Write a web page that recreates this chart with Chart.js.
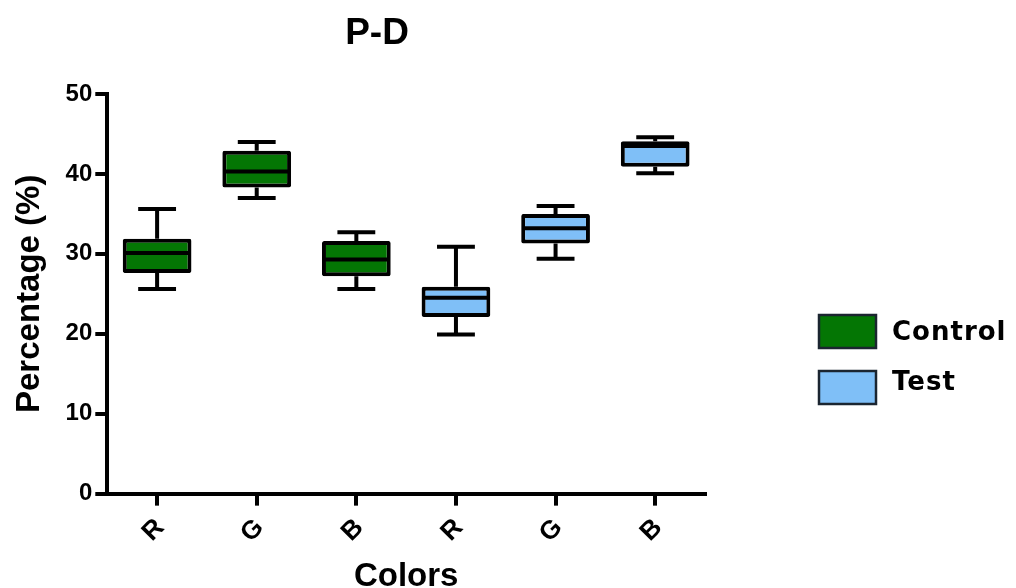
<!DOCTYPE html>
<html>
<head>
<meta charset="utf-8">
<title>P-D</title>
<script src="https://cdn.jsdelivr.net/npm/chart.js@4.4.1/dist/chart.umd.min.js"></script>
<style>
  html, body { margin: 0; padding: 0; background: #fff; }
  #wrap { width: 1016px; height: 588px; }
</style>
</head>
<body>
<div id="wrap"><canvas id="boxChart" width="1016" height="588"></canvas></div>
<script>
// colour channels, control group first then test group
const categories = ["R", "G", "B", "R", "G", "B"];
const groupNames = ["Control", "Test"];

// five-number summaries (percentage)
const controlMin    = [25.6, 37.0, 25.6, null, null, null];
const controlQ1     = [27.6, 38.3, 27.2, null, null, null];
const controlMedian = [30.1, 40.3, 29.3, null, null, null];
const controlQ3     = [31.9, 42.9, 31.6, null, null, null];
const controlMax    = [35.6, 44.0, 32.7, null, null, null];

const testMin    = [null, null, null, 19.9, 29.4, 40.1];
const testQ1     = [null, null, null, 22.1, 31.3, 40.9];
const testMedian = [null, null, null, 24.5, 33.2, 43.5];
const testQ3     = [null, null, null, 25.9, 35.0, 44.1];
const testMax    = [null, null, null, 30.9, 36.0, 44.6];

const yTicks = [0, 10, 20, 30, 40, 50];

const GREEN = '#047604';
const BLUE = '#7fbff7';
const INK = '#000000';
const SANS = "'Liberation Sans', Arial, sans-serif";

function boxes(lo, hi) {
  return lo.map((q, i) => (q == null ? null : [q, hi[i]]));
}

// whiskers behind the boxes, medians on top
const boxWhiskers = {
  id: 'boxWhiskers',
  beforeDatasetsDraw(chart) {
    const ctx = chart.ctx;
    const y = chart.scales.y;
    const x = chart.scales.x;
    const capW = (x.getPixelForValue(1) - x.getPixelForValue(0)) * 0.38;
    ctx.save();
    ctx.strokeStyle = INK;
    ctx.lineWidth = 4;
    ctx.lineCap = 'butt';
    chart.data.datasets.forEach((ds, di) => {
      chart.getDatasetMeta(di).data.forEach((bar, i) => {
        if (ds.data[i] == null) return;
        const cx = bar.x;
        const top = y.getPixelForValue(ds.whiskerHigh[i]);
        const bot = y.getPixelForValue(ds.whiskerLow[i]);
        ctx.beginPath();
        ctx.moveTo(cx, top);
        ctx.lineTo(cx, y.getPixelForValue(ds.data[i][1]));
        ctx.moveTo(cx, bot);
        ctx.lineTo(cx, y.getPixelForValue(ds.data[i][0]));
        ctx.moveTo(cx - capW / 2, top);
        ctx.lineTo(cx + capW / 2, top);
        ctx.moveTo(cx - capW / 2, bot);
        ctx.lineTo(cx + capW / 2, bot);
        ctx.stroke();
      });
    });
    ctx.restore();
  },
  afterDatasetsDraw(chart) {
    const ctx = chart.ctx;
    const y = chart.scales.y;
    ctx.save();
    ctx.strokeStyle = INK;
    ctx.lineWidth = 4;
    chart.data.datasets.forEach((ds, di) => {
      chart.getDatasetMeta(di).data.forEach((bar, i) => {
        if (ds.data[i] == null) return;
        const my = y.getPixelForValue(ds.median[i]);
        ctx.beginPath();
        ctx.moveTo(bar.x - bar.width / 2 + 2, my);
        ctx.lineTo(bar.x + bar.width / 2 - 2, my);
        ctx.stroke();
      });
    });
    ctx.restore();
  }
};

// heading and the group key at the right
const decorations = {
  id: 'decorations',
  afterDraw(chart) {
    const ctx = chart.ctx;
    ctx.save();
    ctx.fillStyle = INK;
    ctx.font = "bold 37px " + SANS;
    ctx.textAlign = 'center';
    ctx.textBaseline = 'alphabetic';
    ctx.fillText('P-D', 377, 44);

    const rows = [314, 370];
    chart.data.datasets.forEach((ds, di) => {
      const top = rows[di];
      ctx.fillStyle = ds.backgroundColor;
      ctx.fillRect(818, top, 59, 35);
      ctx.strokeStyle = '#1b2530';
      ctx.lineWidth = 2.5;
      ctx.strokeRect(819, top + 1, 57, 33);
      ctx.fillStyle = INK;
      ctx.font = "bold 26px 'DejaVu Sans', sans-serif";
      ctx.letterSpacing = '1px';
      ctx.textAlign = 'left';
      ctx.fillText(ds.label, 892, di === 0 ? top + 26 : top + 20);
    });
    ctx.restore();
  }
};

const axisGrid = {
  drawOnChartArea: false,
  drawTicks: true,
  tickLength: 12,
  lineWidth: 4,
  color: INK
};

new Chart(document.getElementById('boxChart'), {
  type: 'bar',
  data: {
    labels: categories,
    datasets: [
      {
        label: groupNames[0],
        data: boxes(controlQ1, controlQ3),
        whiskerLow: controlMin,
        whiskerHigh: controlMax,
        median: controlMedian,
        backgroundColor: GREEN
      },
      {
        label: groupNames[1],
        data: boxes(testQ1, testQ3),
        whiskerLow: testMin,
        whiskerHigh: testMax,
        median: testMedian,
        backgroundColor: BLUE
      }
    ]
  },
  options: {
    responsive: false,
    animation: false,
    devicePixelRatio: 1,
    layout: { padding: { left: 6, right: 311, top: 94, bottom: 0 } },
    datasets: {
      bar: {
        grouped: false,
        barPercentage: 0.69,
        categoryPercentage: 1,
        borderColor: INK,
        borderWidth: 4,
        borderSkipped: false,
        borderRadius: 2
      }
    },
    plugins: {
      legend: { display: false },
      tooltip: { enabled: false },
      title: { display: false }
    },
    scales: {
      x: {
        offset: true,
        grid: Object.assign({}, axisGrid, { offset: false }),
        border: { display: true, width: 4, color: INK },
        ticks: {
          color: INK,
          font: { family: SANS, size: 26, weight: 'bold' },
          minRotation: 45,
          maxRotation: 45,
          padding: 7,
          labelOffset: 3
        },
        title: {
          display: true,
          text: 'Colors',
          color: INK,
          font: { family: SANS, size: 33, weight: 'bold', lineHeight: 1 },
          padding: { top: 4, bottom: -5 }
        }
      },
      y: {
        min: yTicks[0],
        max: yTicks[yTicks.length - 1],
        afterBuildTicks(scale) {
          scale.ticks = yTicks.map(v => ({ value: v }));
        },
        grid: axisGrid,
        border: { display: true, width: 4, color: INK },
        ticks: {
          color: INK,
          font: { family: SANS, size: 24, weight: 'bold' },
          padding: 3
        },
        title: {
          display: true,
          text: 'Percentage (%)',
          color: INK,
          font: { family: SANS, size: 33, weight: 'bold' },
          padding: { top: 4, bottom: 13 }
        }
      }
    }
  },
  plugins: [boxWhiskers, decorations]
});
</script>
</body>
</html>
